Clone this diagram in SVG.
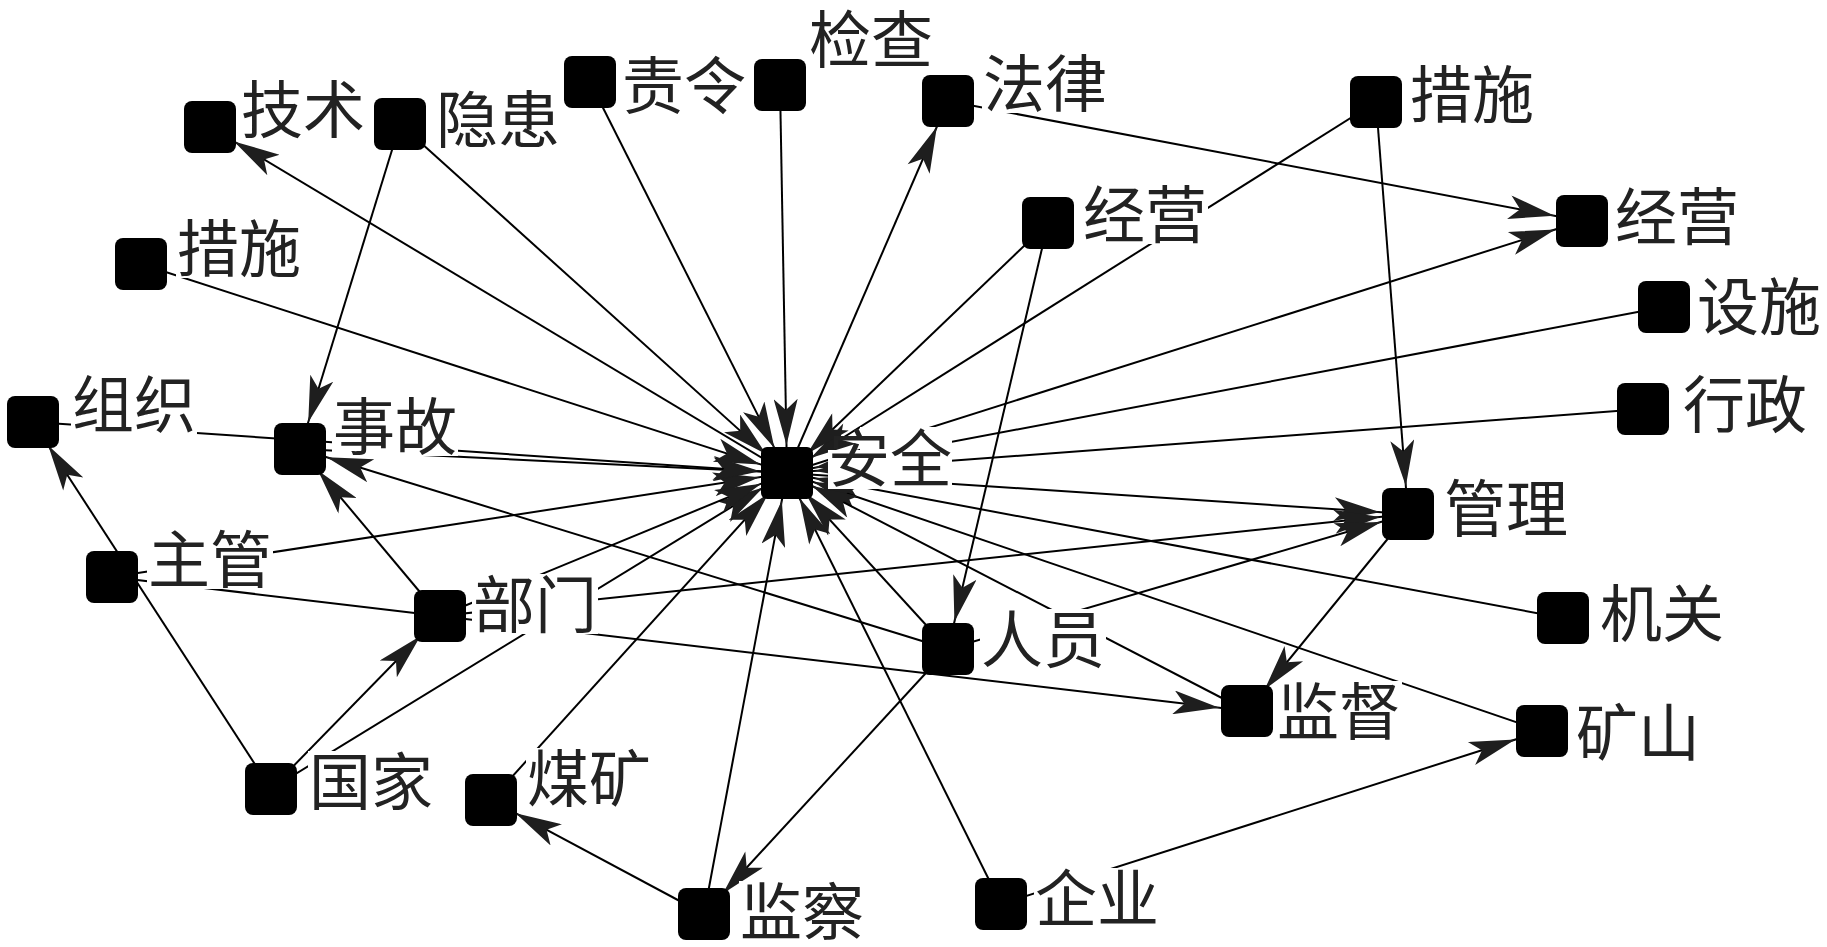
<svg xmlns="http://www.w3.org/2000/svg" width="1827" height="947" viewBox="0 0 1827 947">
<style>
.e{stroke:#000;stroke-width:2;fill:none}
.a{marker-end:url(#arr)}
.n{fill:#000}
.bg{fill:#fff}
.t{font-family:"Noto Sans CJK SC","Noto Sans CJK JP",sans-serif;font-size:62px;fill:#222}
</style>
<defs>
<marker id="arr" markerUnits="userSpaceOnUse" orient="auto" markerWidth="102" markerHeight="24" refX="102" refY="12">
<path d="M74,12 L28,0 L39,12 L28,24 Z" fill="#1e1e1e"/>
</marker>
</defs>
<rect width="1827" height="947" fill="#fff"/>
<g id="connectors">
<line class="e a" x1="787" y1="473" x2="210" y2="127"/>
<line class="e a" x1="400" y1="124" x2="300" y2="449"/>
<line class="e a" x1="400" y1="124" x2="787" y2="473"/>
<line class="e a" x1="141" y1="264" x2="787" y2="473"/>
<line class="e a" x1="590" y1="82" x2="787" y2="473"/>
<line class="e a" x1="780" y1="85" x2="787" y2="473"/>
<line class="e a" x1="787" y1="473" x2="948" y2="101"/>
<line class="e a" x1="948" y1="101" x2="1582" y2="221"/>
<line class="e a" x1="1376" y1="102" x2="787" y2="473"/>
<line class="e a" x1="1376" y1="102" x2="1408" y2="514"/>
<line class="e a" x1="1048" y1="223" x2="787" y2="473"/>
<line class="e a" x1="1048" y1="223" x2="948" y2="649"/>
<line class="e a" x1="787" y1="473" x2="1582" y2="221"/>
<line class="e a" x1="1664" y1="307" x2="787" y2="473"/>
<line class="e a" x1="1643" y1="409" x2="787" y2="473"/>
<line class="e a" x1="787" y1="473" x2="1408" y2="514"/>
<line class="e a" x1="440" y1="616" x2="1408" y2="514"/>
<line class="e a" x1="948" y1="649" x2="1408" y2="514"/>
<line class="e a" x1="1563" y1="618" x2="787" y2="473"/>
<line class="e a" x1="1542" y1="731" x2="787" y2="473"/>
<line class="e a" x1="1001" y1="904" x2="1542" y2="731"/>
<line class="e a" x1="1001" y1="904" x2="787" y2="473"/>
<line class="e a" x1="1247" y1="711" x2="787" y2="473"/>
<line class="e a" x1="440" y1="616" x2="1247" y2="711"/>
<line class="e a" x1="948" y1="649" x2="300" y2="449"/>
<line class="e a" x1="948" y1="649" x2="704" y2="914"/>
<line class="e a" x1="704" y1="914" x2="787" y2="473"/>
<line class="e a" x1="704" y1="914" x2="491" y2="800"/>
<line class="e a" x1="491" y1="800" x2="787" y2="473"/>
<line class="e a" x1="271" y1="789" x2="440" y2="616"/>
<line class="e a" x1="271" y1="789" x2="787" y2="473"/>
<line class="e a" x1="271" y1="789" x2="33" y2="422"/>
<line class="e a" x1="440" y1="616" x2="300" y2="449"/>
<line class="e a" x1="112" y1="577" x2="787" y2="473"/>
<line class="e" x1="112" y1="577" x2="440" y2="616"/>
<line class="e a" x1="440" y1="616" x2="787" y2="473"/>
<line class="e a" x1="300" y1="449" x2="787" y2="473"/>
<line class="e a" x1="33" y1="422" x2="787" y2="473"/>
<line class="e a" x1="1408" y1="514" x2="1247" y2="711"/>
<line class="e a" x1="948" y1="649" x2="787" y2="473"/>
</g>
<g id="n-jishu"><rect class="n" x="184" y="101" width="52" height="52" rx="8"/><rect class="bg" x="240" y="79" width="126" height="60"/><text class="t" x="241" y="133">技术</text></g>
<g id="n-yinhuan"><rect class="n" x="374" y="98" width="52" height="52" rx="8"/><rect class="bg" x="435" y="89" width="126" height="60"/><text class="t" x="436" y="143">隐患</text></g>
<g id="n-cuoshi1"><rect class="n" x="115" y="238" width="52" height="52" rx="8"/><rect class="bg" x="176" y="218" width="126" height="60"/><text class="t" x="177" y="272">措施</text></g>
<g id="n-zuzhi"><rect class="n" x="7" y="396" width="52" height="52" rx="8"/><rect class="bg" x="71" y="374" width="126" height="60"/><text class="t" x="72" y="428">组织</text></g>
<g id="n-shigu"><rect class="n" x="274" y="423" width="52" height="52" rx="8"/><rect class="bg" x="332" y="396" width="126" height="60"/><text class="t" x="333" y="450">事故</text></g>
<g id="n-zeling"><rect class="n" x="564" y="56" width="52" height="52" rx="8"/><rect class="bg" x="621" y="55" width="126" height="60"/><text class="t" x="622" y="109">责令</text></g>
<g id="n-jiancha"><rect class="n" x="754" y="59" width="52" height="52" rx="8"/><rect class="bg" x="808" y="9" width="126" height="60"/><text class="t" x="809" y="63">检查</text></g>
<g id="n-falv"><rect class="n" x="922" y="75" width="52" height="52" rx="8"/><rect class="bg" x="982" y="53" width="126" height="60"/><text class="t" x="983" y="107">法律</text></g>
<g id="n-jingying1"><rect class="n" x="1022" y="197" width="52" height="52" rx="8"/><rect class="bg" x="1082" y="184" width="126" height="60"/><text class="t" x="1083" y="238">经营</text></g>
<g id="n-cuoshi2"><rect class="n" x="1350" y="76" width="52" height="52" rx="8"/><rect class="bg" x="1409" y="64" width="126" height="60"/><text class="t" x="1410" y="118">措施</text></g>
<g id="n-jingying2"><rect class="n" x="1556" y="195" width="52" height="52" rx="8"/><rect class="bg" x="1614" y="186" width="126" height="60"/><text class="t" x="1615" y="240">经营</text></g>
<g id="n-sheshi"><rect class="n" x="1638" y="281" width="52" height="52" rx="8"/><rect class="bg" x="1696" y="276" width="126" height="60"/><text class="t" x="1697" y="330">设施</text></g>
<g id="n-xingzheng"><rect class="n" x="1617" y="383" width="52" height="52" rx="8"/><rect class="bg" x="1682" y="374" width="126" height="60"/><text class="t" x="1683" y="428">行政</text></g>
<g id="n-anquan"><rect class="n" x="761" y="447" width="52" height="52" rx="6"/><path class="bg" d="M828,450 L860,450 L860,427 L952,427 L952,489 L828,489 Z"/><text class="t" x="828" y="482">安全</text></g>
<g id="n-guanli"><rect class="n" x="1382" y="488" width="52" height="52" rx="8"/><rect class="bg" x="1443" y="478" width="126" height="60"/><text class="t" x="1444" y="532">管理</text></g>
<g id="n-jiguan"><rect class="n" x="1537" y="592" width="52" height="52" rx="8"/><rect class="bg" x="1599" y="583" width="126" height="60"/><text class="t" x="1600" y="637">机关</text></g>
<g id="n-jiandu"><rect class="n" x="1221" y="685" width="52" height="52" rx="8"/><rect class="bg" x="1276" y="681" width="126" height="60"/><text class="t" x="1277" y="735">监督</text></g>
<g id="n-kuangshan"><rect class="n" x="1516" y="705" width="52" height="52" rx="8"/><rect class="bg" x="1575" y="702" width="126" height="60"/><text class="t" x="1576" y="756">矿山</text></g>
<g id="n-renyuan"><rect class="n" x="922" y="623" width="52" height="52" rx="8"/><rect class="bg" x="980" y="609" width="126" height="60"/><text class="t" x="981" y="663">人员</text></g>
<g id="n-jiancha2"><rect class="n" x="678" y="888" width="52" height="52" rx="8"/><rect class="bg" x="739" y="881" width="126" height="60"/><text class="t" x="740" y="935">监察</text></g>
<g id="n-qiye"><rect class="n" x="975" y="878" width="52" height="52" rx="8"/><rect class="bg" x="1034" y="868" width="126" height="60"/><text class="t" x="1035" y="922">企业</text></g>
<g id="n-zhuguan"><rect class="n" x="86" y="551" width="52" height="52" rx="8"/><rect class="bg" x="147" y="529" width="126" height="60"/><text class="t" x="148" y="583">主管</text></g>
<g id="n-bumen"><rect class="n" x="414" y="590" width="52" height="52" rx="8"/><rect class="bg" x="472" y="574" width="126" height="60"/><text class="t" x="473" y="628">部门</text></g>
<g id="n-guojia"><rect class="n" x="245" y="763" width="52" height="52" rx="8"/><rect class="bg" x="308" y="751" width="126" height="60"/><text class="t" x="309" y="805">国家</text></g>
<g id="n-meikuang"><rect class="n" x="465" y="774" width="52" height="52" rx="8"/><rect class="bg" x="526" y="748" width="126" height="60"/><text class="t" x="527" y="802">煤矿</text></g>
</svg>
